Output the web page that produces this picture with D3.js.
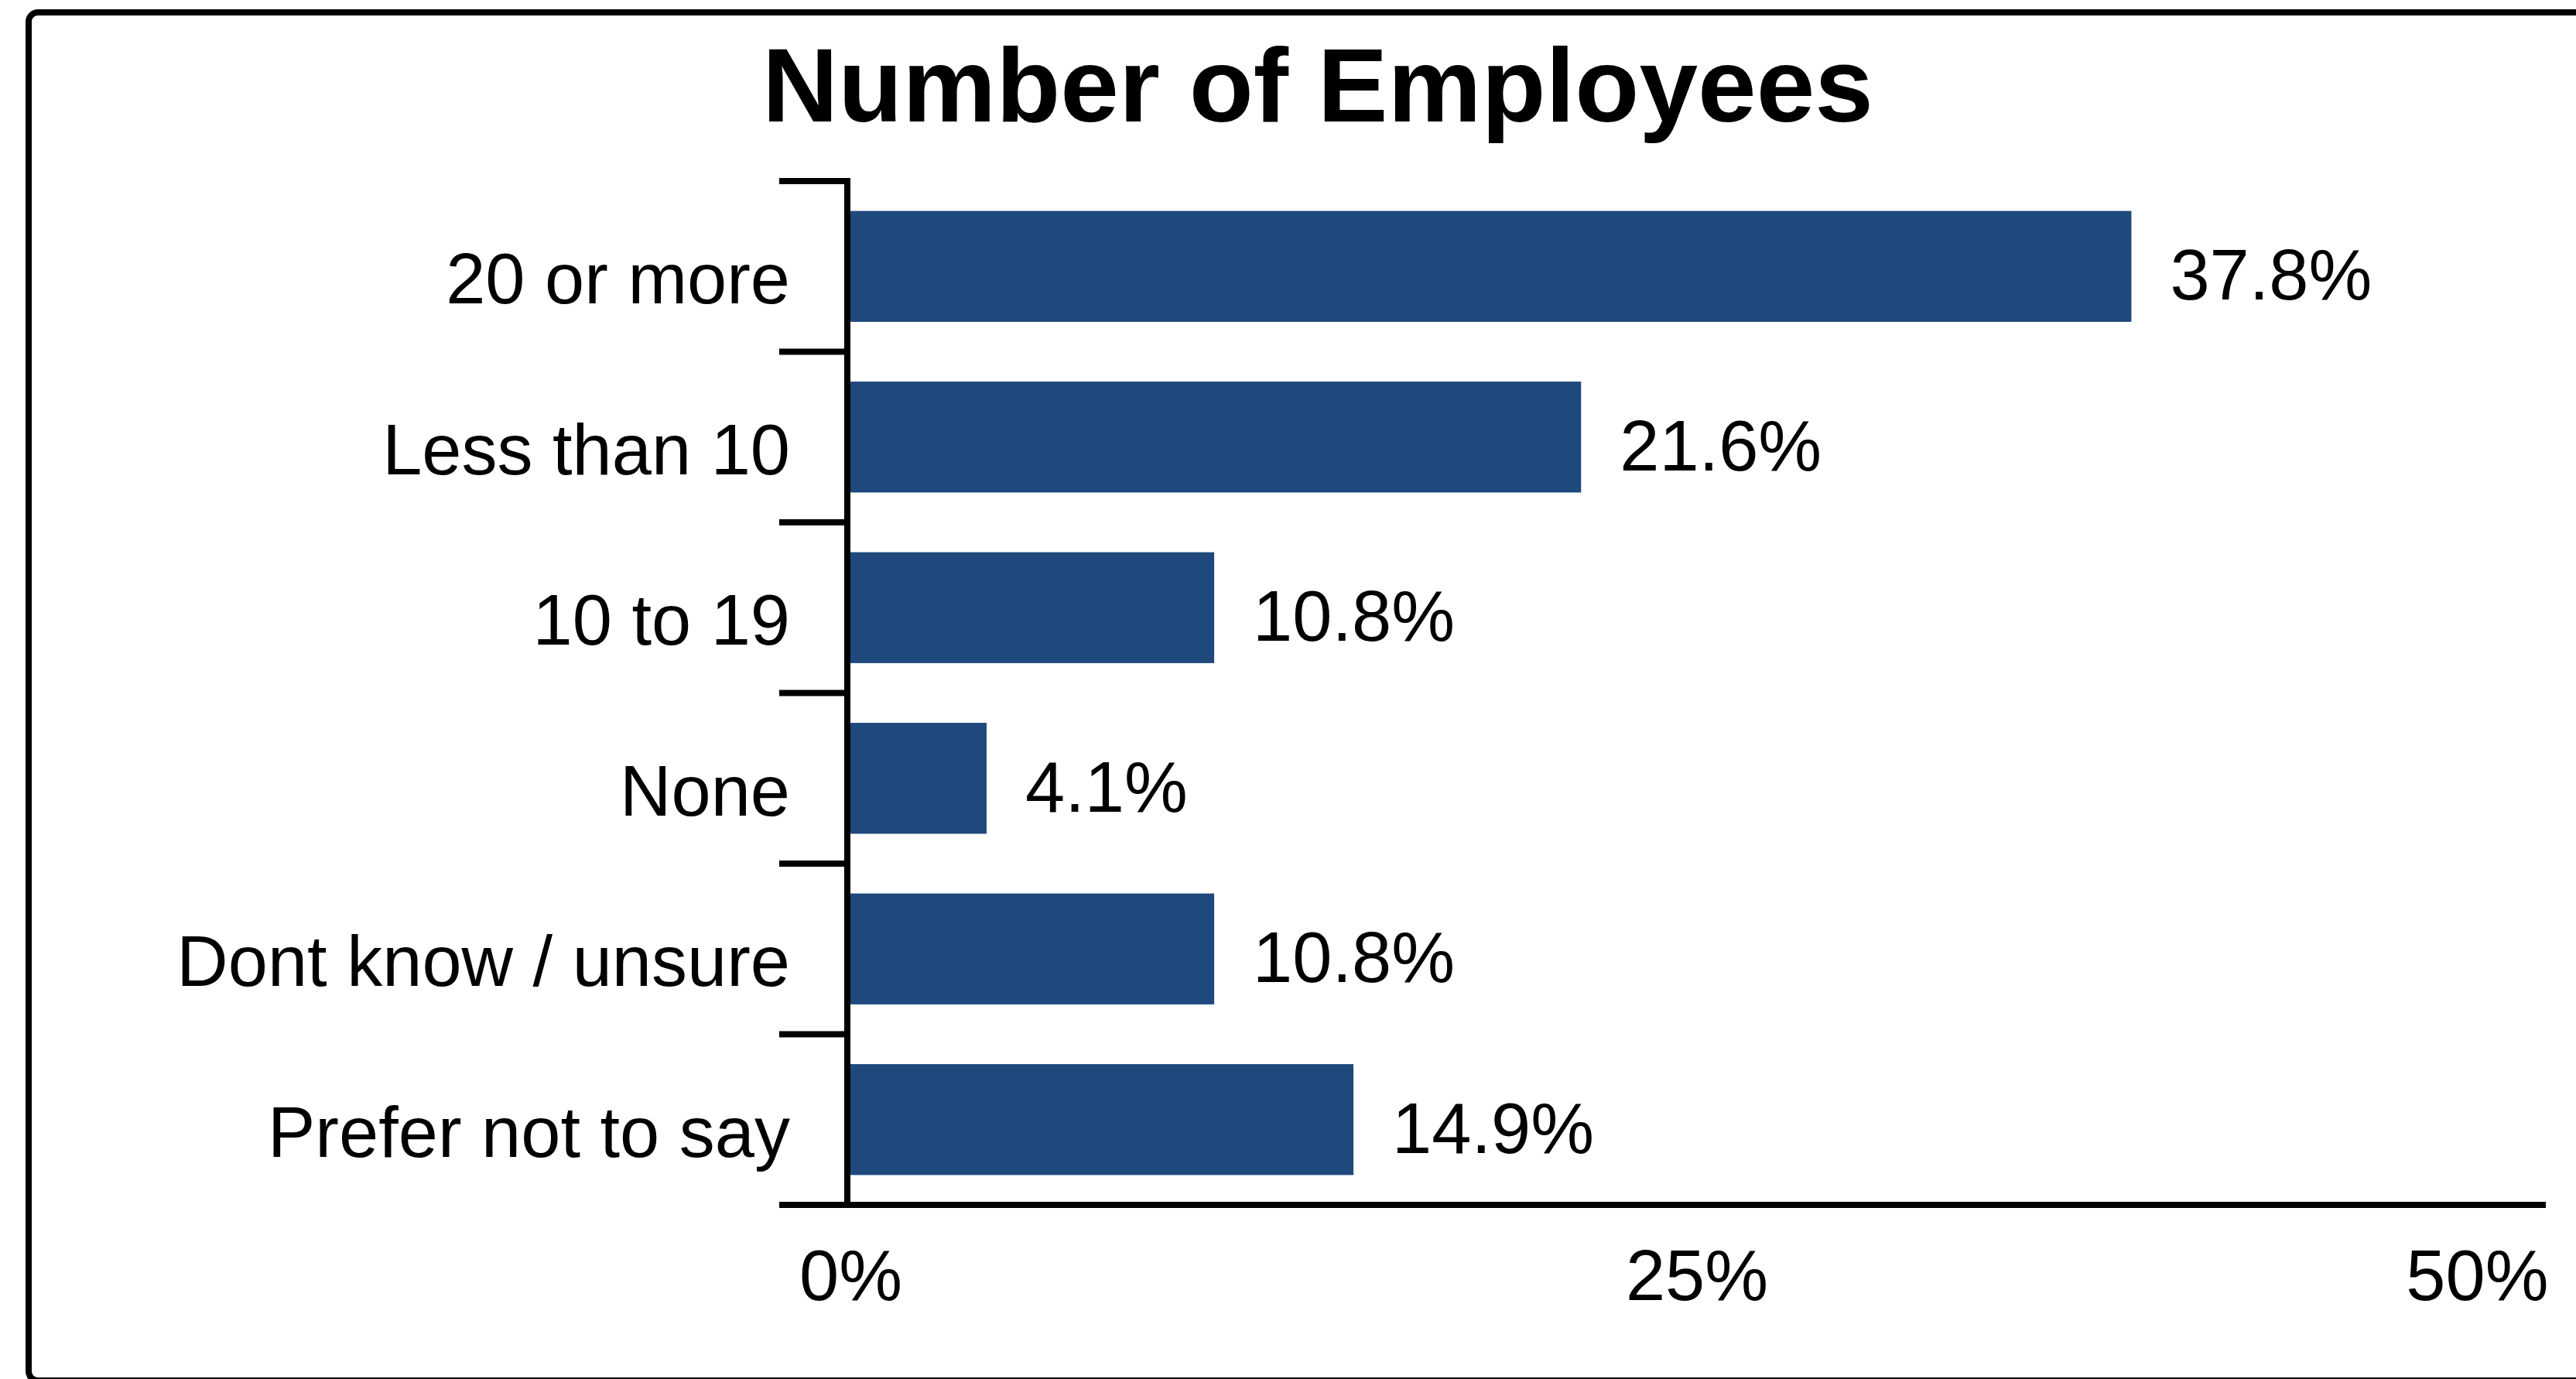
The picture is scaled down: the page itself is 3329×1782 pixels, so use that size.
<!DOCTYPE html>
<html>
<head>
<meta charset="utf-8">
<script src="https://cdn.jsdelivr.net/npm/d3@7"></script>
<style>
  html, body { margin: 0; padding: 0; background: #ffffff; }
  svg { display: block; font-family: "Liberation Sans", Arial, sans-serif; }
</style>
</head>
<body>
<svg id="chart" width="3329" height="1782"></svg>
<script>
// Survey responses: number of employees
const categories = ["20 or more", "Less than 10", "10 to 19", "None", "Dont know / unsure", "Prefer not to say"];
const values = [37.8, 21.6, 10.8, 4.1, 10.8, 14.9];
const tickValues = [0, 25, 50];
const tickLabels = ["0%", "25%", "50%"];
const title = "Number of Employees";

const svg = d3.select("#chart");

// Outer frame
svg.append("rect")
  .attr("x", 37).attr("y", 16)
  .attr("width", 3340).attr("height", 1768)
  .attr("rx", 12).attr("ry", 12)
  .attr("fill", "#ffffff")
  .attr("stroke", "#000000")
  .attr("stroke-width", 8);

const plot = { left: 1095, right: 3290, top: 234, bottom: 1557 };

const x = d3.scaleLinear().domain([0, 50]).range([plot.left, plot.right]);
const y = d3.scaleBand().domain(categories).range([plot.top, plot.bottom])
  .paddingInner(0.35).paddingOuter(0.175);

// Title
svg.append("text")
  .attr("x", 1703).attr("y", 157)
  .attr("text-anchor", "middle")
  .attr("font-size", 136)
  .attr("font-weight", "bold")
  .attr("fill", "#000000")
  .text(title);

// Bars
svg.append("g").selectAll("rect")
  .data(categories)
  .join("rect")
  .attr("x", x(0))
  .attr("y", d => y(d))
  .attr("width", (d, i) => x(values[i]) - x(0))
  .attr("height", y.bandwidth())
  .attr("fill", "#1F497D");

// Value labels
svg.append("g").selectAll("text")
  .data(categories)
  .join("text")
  .attr("x", (d, i) => x(values[i]) + 50)
  .attr("y", d => y(d) + y.bandwidth() / 2)
  .attr("dy", "0.47em")
  .attr("font-size", 92)
  .attr("fill", "#000000")
  .text((d, i) => values[i].toFixed(1) + "%");

// Category axis: ticks sit on band boundaries
const boundaries = d3.range(categories.length + 1)
  .map(i => plot.top + i * (plot.bottom - plot.top) / categories.length);
const yAxisG = svg.append("g");
yAxisG.selectAll("line.tick")
  .data(boundaries)
  .join("line")
  .attr("class", "tick")
  .attr("x1", plot.left - 88).attr("x2", plot.left)
  .attr("y1", d => d).attr("y2", d => d)
  .attr("stroke", "#000").attr("stroke-width", 8);
yAxisG.append("line")
  .attr("x1", plot.left).attr("x2", plot.left)
  .attr("y1", plot.top - 4).attr("y2", plot.bottom + 4)
  .attr("stroke", "#000").attr("stroke-width", 8);
yAxisG.selectAll("text")
  .data(categories)
  .join("text")
  .attr("x", 1021)
  .attr("y", d => y(d) + y.bandwidth() / 2)
  .attr("dy", "0.52em")
  .attr("text-anchor", "end")
  .attr("font-size", 92)
  .attr("fill", "#000000")
  .text(d => d);

// Value axis
const xAxis = d3.axisBottom(x)
  .tickValues(tickValues)
  .tickFormat((d, i) => tickLabels[i])
  .tickSize(0)
  .tickPadding(0);
const xAxisG = svg.append("g")
  .attr("transform", `translate(0,${plot.bottom})`)
  .call(xAxis);
xAxisG.select(".domain")
  .attr("d", `M${plot.left - 88},0H${plot.right}`)
  .attr("stroke", "#000").attr("stroke-width", 8);
xAxisG.selectAll("text")
  .attr("y", 123).attr("dy", 0)
  .attr("font-size", 92)
  .attr("font-family", "Liberation Sans, Arial, sans-serif")
  .attr("fill", "#000000");
xAxisG.selectAll(".tick").filter(d => d === 50).select("text")
  .attr("text-anchor", "end").attr("x", 3);
xAxisG.selectAll(".tick").filter(d => d === 0).select("text")
  .attr("x", 4);
</script>
</body>
</html>
